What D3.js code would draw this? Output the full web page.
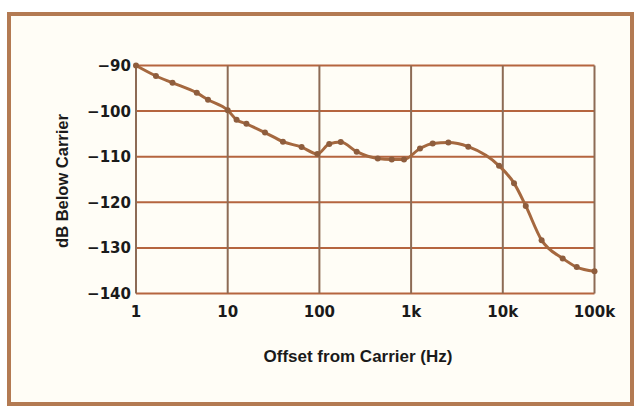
<!DOCTYPE html>
<html><head><meta charset="utf-8">
<script src="https://cdn.jsdelivr.net/npm/d3@7"></script>
<style>
html,body{margin:0;padding:0;background:#fff;}
svg{display:block;}
text{font-family:"Liberation Sans",Arial,Helvetica,sans-serif;font-weight:bold;fill:#1a1a1a;}
text.tick{font-family:"DejaVu Sans",sans-serif;}
</style></head>
<body>
<script>
// Data
const offsetHz = [1, 1.65, 2.5, 4.6, 6.1, 10, 12.5, 16, 25.5, 40, 64, 95, 128, 171, 255, 433, 615, 837, 1250, 1720, 2550, 4200, 9100, 13250, 17800, 26500, 45000, 64000, 100000];
const dbBelow  = [-90, -92.3, -93.8, -96, -97.5, -99.8, -101.9, -102.8, -104.7, -106.7, -107.9, -109.4, -107.2, -106.8, -108.9, -110.4, -110.6, -110.6, -108.2, -107.1, -106.9, -107.8, -112.0, -115.8, -120.8, -128.3, -132.3, -134.2, -135.1];
const xTickValues = [1, 10, 100, 1000, 10000, 100000];
const xTickLabels = ["1", "10", "100", "1k", "10k", "100k"];
const yTickValues = [-90, -100, -110, -120, -130, -140];
const yTickLabels = ["\u221290", "\u2212100", "\u2212110", "\u2212120", "\u2212130", "\u2212140"];
const xTitle = "Offset from Carrier (Hz)";
const yTitle = "dB Below Carrier";

const W = 637, H = 407;
const svg = d3.select("body").append("svg").attr("width", W).attr("height", H);

// frame
svg.append("rect").attr("x", 9).attr("y", 14).attr("width", 623).attr("height", 390)
  .attr("fill", "#fffdf6").attr("stroke", "#b37a52").attr("stroke-width", 4);

const x = d3.scaleLog().domain([1, 100000]).range([136, 594.5]);
const y = d3.scaleLinear().domain([-140, -90]).range([293.5, 65.5]);

// horizontal grid
svg.append("g").selectAll("line").data(yTickValues).join("line")
  .attr("x1", x(1)).attr("x2", x(100000))
  .attr("y1", d => y(d)).attr("y2", d => y(d))
  .attr("stroke", "#b5653f").attr("stroke-width", 2);
// vertical grid
svg.append("g").selectAll("line").data(xTickValues).join("line")
  .attr("x1", d => x(d)).attr("x2", d => x(d))
  .attr("y1", y(-90)).attr("y2", y(-140))
  .attr("stroke", "#8d6b55").attr("stroke-width", 2);

// y tick labels
svg.append("g").selectAll("text").data(yTickValues).join("text")
  .attr("class", "tick")
  .attr("x", 131).attr("y", d => y(d)).attr("dy", "0.36em")
  .attr("text-anchor", "end").attr("font-size", 15)
  .text((d, i) => yTickLabels[i]);
// x tick labels
svg.append("g").selectAll("text").data(xTickValues).join("text")
  .attr("class", "tick")
  .attr("x", d => x(d)).attr("y", 317)
  .attr("text-anchor", "middle").attr("font-size", 15)
  .text((d, i) => xTickLabels[i]);

// titles
svg.append("text").attr("x", 358).attr("y", 362).attr("text-anchor", "middle")
  .attr("font-size", 17).text(xTitle);
svg.append("text").attr("transform", "translate(68,181) rotate(-90)")
  .attr("text-anchor", "middle").attr("font-size", 16.5).text(yTitle);

// curve
const pts = offsetHz.map((f, i) => [f, dbBelow[i]]);
const line = d3.line().x(d => x(d[0])).y(d => y(d[1])).curve(d3.curveMonotoneX);
svg.append("path").datum(pts).attr("d", line)
  .attr("fill", "none").attr("stroke", "#a5683f").attr("stroke-width", 3);
svg.append("g").selectAll("circle").data(pts).join("circle")
  .attr("cx", d => x(d[0])).attr("cy", d => y(d[1])).attr("r", 3)
  .attr("fill", "#8e5d3d");
</script>
</body></html>
